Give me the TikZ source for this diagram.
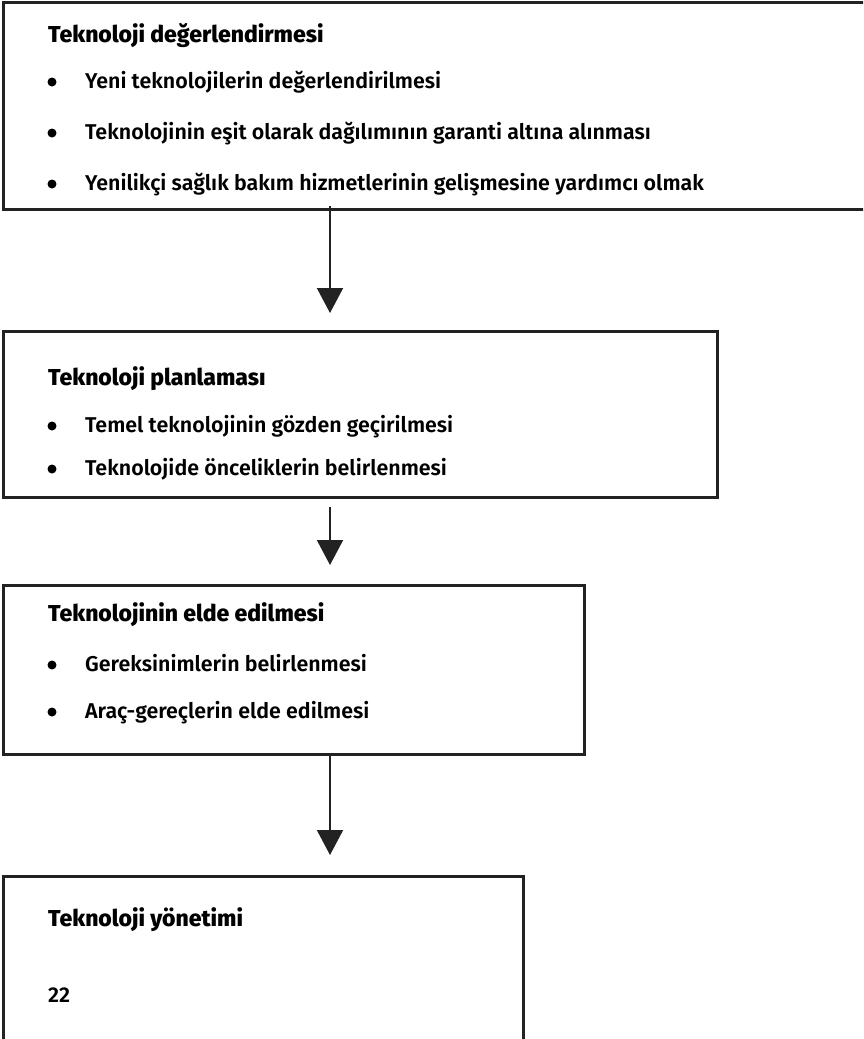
\documentclass[tikz,border=0pt]{standalone}
\usepackage{fontspec}
\setmainfont{Fira Sans}
\IfFontExistsTF{Fira Sans SemiBold}{\newfontfamily\itemfont{Fira Sans SemiBold}}{\newfontfamily\itemfont{Fira Sans}[UprightFont=*, BoldFont=*]}
\IfFontExistsTF{Fira Sans ExtraBold}{\newfontfamily\titlefont{Fira Sans ExtraBold}}{\newfontfamily\titlefont{Fira Sans Bold}}
\usetikzlibrary{arrows.meta}
\definecolor{ln}{HTML}{222222}
\begin{document}
\begin{tikzpicture}[x=1pt,y=-1pt,
  box/.style={draw=ln, line width=3pt, rectangle, inner sep=0pt, outer sep=0pt, anchor=north west},
  ttl/.style={anchor=base west, inner sep=0pt, font=\fontsize{23}{23}\selectfont\titlefont},
  itm/.style={anchor=base west, inner sep=0pt, font=\fontsize{21.4}{21.4}\selectfont\itemfont},
  bul/.style={circle, fill=black, minimum size=9pt, inner sep=0pt},
  arr/.style={draw=ln, line width=2pt, -{Triangle[width=26pt,length=25pt]}}]
\useasboundingbox (0,0) rectangle (863,1039);
\clip (0,0) rectangle (863,1039);
% boxes
\node[box, minimum width=900pt, minimum height=207pt] (b1) at (3,2) {};
\node[box, minimum width=714pt, minimum height=166pt] (b2) at (3,331) {};
\node[box, minimum width=581pt, minimum height=169pt] (b3) at (3,585) {};
\node[box, minimum width=520pt, minimum height=250pt] (b4) at (3,876) {};
% box 1
\node[ttl] (t1) at (48,42) {Teknoloji değerlendirmesi};
\node[bul] (d11) at (52,82) {};
\node[itm] (i11) at (85,88) {Yeni teknolojilerin değerlendirilmesi};
\node[bul] (d12) at (52,133) {};
\node[itm] (i12) at (85,139) {Teknolojinin eşit olarak dağılımının garanti altına alınması};
\node[bul] (d13) at (52,184) {};
\node[itm] (i13) at (85,190) {Yenilikçi sağlık bakım hizmetlerinin gelişmesine yardımcı olmak};
% box 2
\node[ttl] (t2) at (48,385) {Teknoloji planlaması};
\node[bul] (d21) at (52,426) {};
\node[itm] (i21) at (85,432) {Temel teknolojinin gözden geçirilmesi};
\node[bul] (d22) at (52,469) {};
\node[itm] (i22) at (85,475) {Teknolojide önceliklerin belirlenmesi};
% box 3
\node[ttl] (t3) at (48,621) {Teknolojinin elde edilmesi};
\node[bul] (d31) at (52,665) {};
\node[itm] (i31) at (85,671) {Gereksinimlerin belirlenmesi};
\node[bul] (d32) at (52,712) {};
\node[itm] (i32) at (85,718) {Araç-gereçlerin elde edilmesi};
% box 4
\node[ttl] (t4) at (48,926) {Teknoloji yönetimi};
\node[itm] (n4) at (48,1002) {22};
% arrows
\coordinate (a1s) at (330,206);
\coordinate (a1e) at (330,313);
\coordinate (a2s) at (330,507);
\coordinate (a2e) at (330,565);
\coordinate (a3s) at (330,756);
\coordinate (a3e) at (330,855);
\draw[arr] (a1s) -- (a1e);
\draw[arr] (a2s) -- (a2e);
\draw[arr] (a3s) -- (a3e);
\end{tikzpicture}
\end{document}
